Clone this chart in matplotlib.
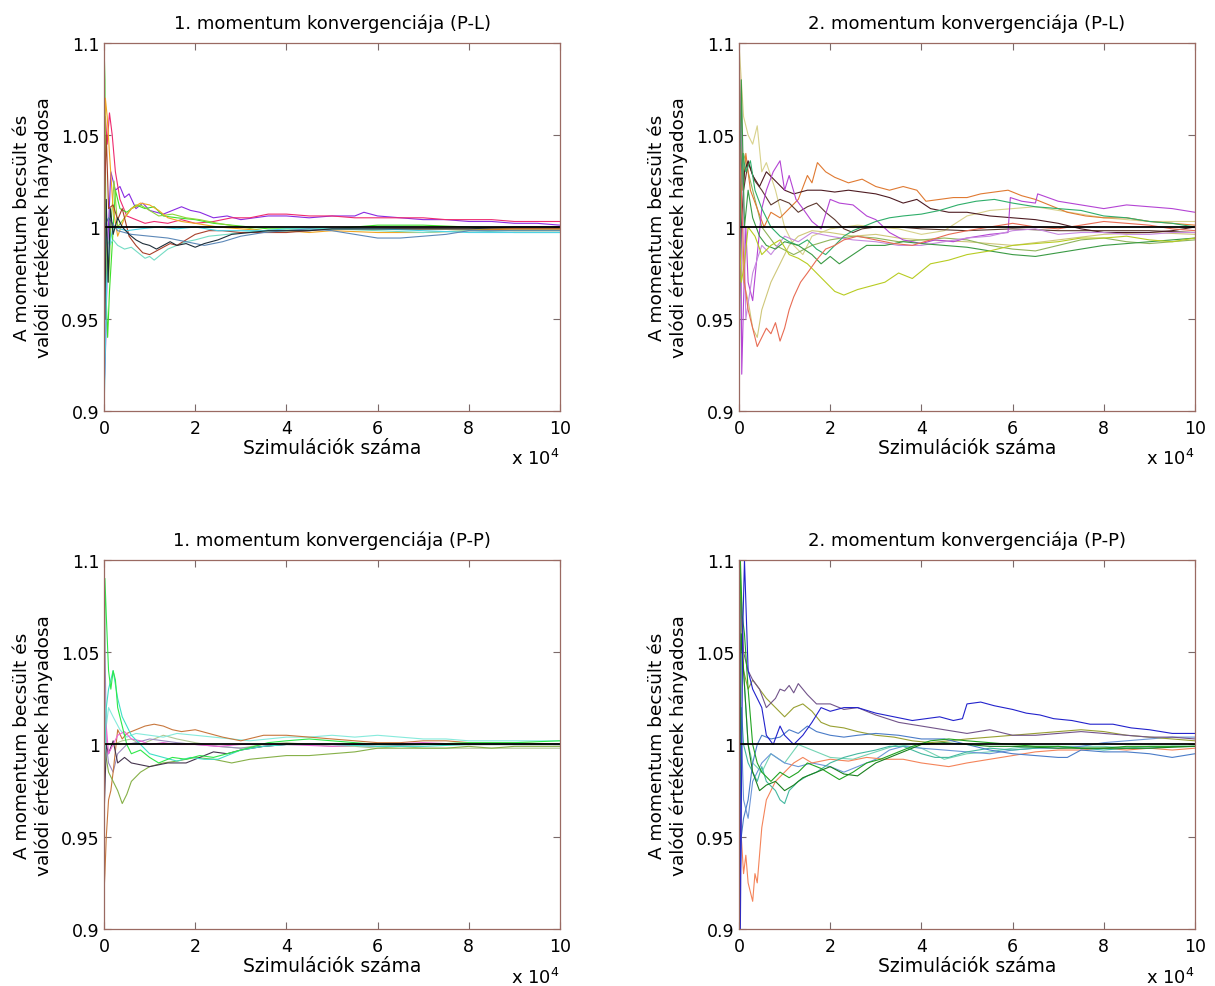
"""
Convergence of the 1st and 2nd moment estimates (P-L and P-P models).
Each curve is the ratio of estimated and true moment vs. number of simulations.
"""
import matplotlib
matplotlib.use("Agg")
import matplotlib.pyplot as plt

plt.rcParams['font.family'] = ['DejaVu Sans']

# x values are in units of 10^4 simulations

# ---- panel 1: 1. momentum (P-L) ----
p1_purple_x = [0, 0.03, 0.08, 0.15, 0.25, 0.35, 0.45, 0.55, 0.7, 0.85, 1.0, 1.15, 1.3, 1.5, 1.7, 1.9, 2.1, 2.4, 2.7, 3.0, 3.3, 3.6, 4.0, 4.5, 5.0, 5.5, 5.7, 6.0, 6.5, 7.0, 7.5, 8.0, 8.5, 9.0, 9.5, 10]
p1_purple_y = [0.91, 0.93, 0.99, 1.03, 1.02, 1.022, 1.016, 1.018, 1.01, 1.013, 1.009, 1.008, 1.007, 1.009, 1.011, 1.009, 1.008, 1.005, 1.006, 1.004, 1.005, 1.006, 1.006, 1.005, 1.006, 1.006, 1.008, 1.006, 1.005, 1.004, 1.004, 1.003, 1.003, 1.002, 1.002, 1.001]
p1_pink_x = [0, 0.03, 0.07, 0.12, 0.18, 0.25, 0.35, 0.5, 0.7, 0.9, 1.1, 1.4, 1.7, 2.0, 2.4, 2.8, 3.2, 3.6, 4.0, 4.5, 5.0, 5.5, 6.0, 6.5, 7.0, 7.5, 8.0, 8.5, 9.0, 9.5, 10]
p1_pink_y = [1.04, 1.06, 1.045, 1.062, 1.05, 1.03, 1.015, 1.006, 1.004, 1.002, 1.003, 1.002, 1.004, 1.002, 1.003, 1.005, 1.005, 1.007, 1.007, 1.006, 1.006, 1.005, 1.005, 1.005, 1.005, 1.004, 1.004, 1.004, 1.003, 1.003, 1.003]
p1_green_x = [0, 0.02, 0.05, 0.08, 0.12, 0.18, 0.25, 0.35, 0.5, 0.7, 0.9, 1.1, 1.3, 1.6, 2.0, 2.4, 2.8, 3.2, 3.6, 4.0, 5.0, 6.0, 7.0, 8.0, 9.0, 10]
p1_green_y = [1.1, 1.08, 0.96, 0.94, 0.965, 0.99, 1.02, 1.01, 1.008, 1.012, 1.01, 1.011, 1.006, 1.005, 1.004, 1.002, 1.001, 1.0, 0.999, 0.999, 0.999, 1.001, 1.001, 1.0, 0.999, 0.999]
p1_ygreen_x = [0, 0.04, 0.1, 0.15, 0.22, 0.3, 0.45, 0.6, 0.8, 1.0, 1.2, 1.5, 1.8, 2.1, 2.5, 3.0, 3.5, 4.0, 5.0, 6.0, 7.0, 8.0, 9.0, 10]
p1_ygreen_y = [1.07, 1.0, 0.97, 1.0, 1.025, 1.0, 1.005, 1.01, 1.012, 1.009, 1.006, 1.007, 1.005, 1.004, 1.002, 1.0, 0.998, 0.998, 0.999, 0.999, 0.999, 0.999, 0.998, 0.998]
p1_orange_x = [0, 0.03, 0.07, 0.12, 0.2, 0.3, 0.45, 0.6, 0.8, 1.0, 1.2, 1.4, 1.7, 2.0, 2.5, 3.0, 3.5, 4.0, 4.5, 5.0, 6.0, 7.0, 8.0, 9.0, 10]
p1_orange_y = [1.03, 1.07, 1.06, 1.04, 1.01, 0.995, 1.005, 1.01, 1.013, 1.012, 1.009, 1.005, 1.003, 1.002, 1.0, 0.999, 0.998, 0.998, 0.997, 0.998, 0.997, 0.997, 0.998, 0.999, 0.999]
p1_teal_x = [0, 0.05, 0.12, 0.2, 0.3, 0.45, 0.6, 0.75, 0.9, 1.0, 1.1, 1.25, 1.4, 1.6, 1.8, 2.0, 2.3, 2.7, 3.0, 3.5, 4.0, 5.0, 6.0, 7.0, 8.0, 9.0, 10]
p1_teal_y = [0.98, 0.995, 0.99, 0.993, 0.99, 0.988, 0.989, 0.986, 0.983, 0.984, 0.982, 0.985, 0.988, 0.99, 0.992, 0.993, 0.995, 0.996, 0.997, 0.998, 0.998, 0.999, 0.998, 0.997, 0.998, 0.997, 0.997]
p1_dark_x = [0, 0.02, 0.05, 0.09, 0.14, 0.2, 0.3, 0.4, 0.55, 0.7, 0.85, 1.0, 1.15, 1.3, 1.45, 1.6, 1.8, 2.0, 2.2, 2.5, 2.8, 3.2, 3.6, 4.0, 4.5, 5.0, 6.0, 7.0, 8.0, 9.0, 10]
p1_dark_y = [1.0, 0.95, 1.015, 0.97, 1.01, 0.996, 1.005, 1.0, 0.996, 0.993, 0.991, 0.99, 0.988, 0.99, 0.992, 0.99, 0.991, 0.989, 0.991, 0.993, 0.996, 0.997, 0.998, 0.998, 0.998, 0.999, 0.999, 0.999, 0.999, 1.0, 1.0]
p1_brown_x = [0, 0.05, 0.1, 0.2, 0.3, 0.4, 0.55, 0.7, 0.85, 1.0, 1.15, 1.3, 1.45, 1.6, 1.8, 2.0, 2.3, 2.6, 3.0, 3.5, 4.0, 4.5, 5.0, 6.0, 7.0, 8.0, 9.0, 10]
p1_brown_y = [1.0, 1.05, 1.01, 1.012, 1.004, 1.01, 0.995, 0.99, 0.986, 0.985, 0.987, 0.989, 0.991, 0.99, 0.993, 0.996, 0.998, 0.998, 0.997, 0.997, 0.997, 0.998, 0.999, 0.999, 0.999, 0.999, 0.999, 0.999]
p1_cyan_x = [0, 0.02, 0.06, 0.12, 0.2, 0.35, 0.5, 0.8, 1.2, 1.6, 2.0, 2.5, 3.0, 3.5, 4.0, 5.0, 6.0, 7.0, 8.0, 9.0, 10]
p1_cyan_y = [0.9, 0.92, 0.97, 0.99, 1.0, 0.999, 0.998, 0.999, 1.0, 0.999, 1.0, 0.998, 0.998, 0.998, 0.999, 0.999, 0.999, 0.998, 0.997, 0.997, 0.997]
p1_steel_x = [0, 0.1, 0.3, 0.6, 1.0, 1.4, 1.8, 2.2, 2.6, 3.0, 3.5, 4.0, 4.5, 5.0, 5.5, 6.0, 6.5, 7.0, 7.5, 8.0, 9.0, 10]
p1_steel_y = [1.0, 1.005, 0.998, 0.996, 0.995, 0.994, 0.992, 0.99, 0.992, 0.995, 0.997, 0.998, 0.999, 0.998, 0.996, 0.994, 0.994, 0.995, 0.996, 0.998, 0.998, 0.998]

# ---- panel 2: 2. momentum (P-L) ----
p2_orange_x = [0, 0.03, 0.08, 0.15, 0.25, 0.4, 0.55, 0.7, 0.9, 1.1, 1.3, 1.5, 1.6, 1.72, 1.9, 2.1, 2.4, 2.7, 3.0, 3.3, 3.6, 3.9, 4.1, 4.4, 4.7, 5.0, 5.3, 5.6, 5.9, 6.2, 6.5, 6.8, 7.2, 7.6, 8.0, 8.5, 9.0, 9.5, 10]
p2_orange_y = [1.1, 1.06, 1.02, 1.04, 1.02, 1.01, 1.0, 1.008, 1.005, 1.01, 1.015, 1.028, 1.024, 1.035, 1.03, 1.027, 1.024, 1.026, 1.022, 1.02, 1.022, 1.02, 1.014, 1.015, 1.016, 1.016, 1.018, 1.019, 1.02, 1.017, 1.015, 1.012, 1.008, 1.006, 1.005, 1.005, 1.003, 1.002, 1.001]
p2_maroon_x = [0, 0.05, 0.12, 0.2, 0.3, 0.45, 0.6, 0.8, 1.0, 1.2, 1.5, 1.8, 2.1, 2.4, 2.7, 3.0, 3.3, 3.6, 3.9, 4.2, 4.6, 5.0, 5.5, 6.0, 6.5, 7.0, 7.5, 8.0, 8.5, 9.0, 9.5, 10]
p2_maroon_y = [0.95, 1.0, 1.03, 1.036, 1.028, 1.022, 1.03, 1.025, 1.02, 1.018, 1.02, 1.02, 1.019, 1.02, 1.019, 1.018, 1.016, 1.013, 1.015, 1.01, 1.008, 1.008, 1.006, 1.005, 1.004, 1.002, 0.999, 0.997, 0.997, 0.997, 0.998, 1.0]
p2_brown_x = [0, 0.1, 0.2, 0.35, 0.5, 0.7, 0.9, 1.1, 1.3, 1.5, 1.7, 1.9, 2.1, 2.3, 2.5, 2.7, 3.0, 3.5, 4.0, 5.0, 6.0, 7.0, 8.0, 9.0, 10]
p2_brown_y = [1.05, 1.02, 1.035, 1.025, 1.02, 1.012, 1.015, 1.013, 1.008, 1.011, 1.013, 1.008, 1.004, 0.999, 0.997, 0.999, 1.0, 1.0, 0.999, 0.998, 0.999, 0.998, 0.998, 0.998, 0.997]
p2_purple_x = [0, 0.03, 0.06, 0.1, 0.15, 0.2, 0.3, 0.4, 0.5, 0.6, 0.75, 0.9, 1.0, 1.1, 1.25, 1.4, 1.6, 1.8, 2.0, 2.2, 2.5, 2.8, 3.0, 3.3, 3.6, 4.0, 4.3, 4.7, 5.0, 5.5, 5.9, 5.95, 6.2, 6.5, 6.55, 7.0, 7.5, 8.0, 8.5, 9.0, 9.5, 10]
p2_purple_y = [1.1, 1.05, 0.92, 0.96, 1.0, 0.97, 0.96, 0.985, 1.01, 1.02, 1.03, 1.036, 1.02, 1.028, 1.015, 1.01, 1.003, 0.999, 1.015, 1.013, 1.012, 1.006, 1.004, 0.997, 0.993, 0.991, 0.993, 0.992, 0.994, 0.996, 0.997, 1.016, 1.014, 1.013, 1.018, 1.014, 1.012, 1.01, 1.012, 1.011, 1.01, 1.008]
p2_orchid_x = [0, 0.05, 0.15, 0.3, 0.5, 0.7, 1.0, 1.3, 1.6, 2.0, 2.5, 3.0, 3.5, 4.0, 4.5, 5.0, 5.5, 6.0, 6.5, 7.0, 7.5, 8.0, 8.5, 9.0, 9.5, 10]
p2_orchid_y = [0.9, 1.07, 0.95, 0.975, 0.99, 0.985, 0.995, 0.992, 0.997, 0.995, 0.993, 0.992, 0.99, 0.99, 0.992, 0.994, 0.995, 0.998, 0.999, 0.996, 0.997, 0.997, 0.996, 0.996, 0.997, 0.997]
p2_seagreen_x = [0, 0.03, 0.08, 0.15, 0.25, 0.35, 0.5, 0.7, 0.9, 1.1, 1.3, 1.5, 1.7, 1.9, 2.1, 2.3, 2.5, 2.7, 3.0, 3.3, 3.6, 4.0, 4.4, 4.8, 5.2, 5.6, 6.0, 6.5, 7.0, 7.5, 8.0, 8.5, 9.0, 9.5, 10]
p2_seagreen_y = [1.1, 1.0, 1.04, 1.03, 1.036, 1.02, 1.01, 1.0, 0.995, 0.992, 0.99, 0.993, 0.988, 0.985, 0.99, 0.995, 0.998, 1.0, 1.003, 1.005, 1.006, 1.007, 1.009, 1.012, 1.014, 1.015, 1.013, 1.011, 1.01, 1.009, 1.006, 1.005, 1.003, 1.002, 1.0]
p2_green_x = [0, 0.05, 0.12, 0.2, 0.3, 0.45, 0.6, 0.8, 1.0, 1.3, 1.6, 1.8, 2.0, 2.2, 2.5, 2.8, 3.2, 3.6, 4.0, 4.5, 5.0, 5.5, 6.0, 6.5, 7.0, 7.5, 8.0, 8.5, 9.0, 9.5, 10]
p2_green_y = [0.9, 1.08, 1.0, 1.02, 1.005, 0.995, 0.99, 0.988, 0.992, 0.99, 0.985, 0.98, 0.984, 0.98, 0.985, 0.99, 0.99, 0.992, 0.991, 0.99, 0.989, 0.987, 0.985, 0.984, 0.986, 0.988, 0.99, 0.991, 0.992, 0.993, 0.994]
p2_ygreen_x = [0, 0.05, 0.12, 0.2, 0.35, 0.5, 0.7, 0.9, 1.1, 1.3, 1.5, 1.7, 1.9, 2.1, 2.3, 2.6, 2.9, 3.2, 3.5, 3.8, 4.2, 4.6, 5.0, 5.5, 6.0, 6.5, 7.0, 7.5, 8.0, 8.5, 9.0, 9.5, 10]
p2_ygreen_y = [1.0, 0.97, 0.98, 1.0, 0.995, 0.985, 0.99, 0.993, 0.985, 0.983, 0.98, 0.975, 0.97, 0.965, 0.963, 0.966, 0.968, 0.97, 0.975, 0.972, 0.98, 0.982, 0.985, 0.987, 0.99, 0.991, 0.992, 0.994, 0.994, 0.995, 0.993, 0.992, 0.994]
p2_salmon_x = [0, 0.05, 0.12, 0.2, 0.3, 0.4, 0.5, 0.6, 0.7, 0.8, 0.9, 1.0, 1.1, 1.2, 1.35, 1.5, 1.7, 1.9, 2.1, 2.3, 2.6, 3.0, 3.4, 3.8, 4.2, 4.6, 5.0, 5.5, 6.0, 6.5, 7.0, 7.5, 8.0, 8.5, 9.0, 9.5, 10]
p2_salmon_y = [1.05, 1.02, 0.97, 0.955, 0.945, 0.935, 0.94, 0.945, 0.942, 0.948, 0.938, 0.945, 0.955, 0.962, 0.97, 0.975, 0.982, 0.988, 0.99, 0.993, 0.995, 0.993, 0.991, 0.99, 0.993, 0.996, 0.998, 1.0, 1.002, 1.0, 0.999, 1.001, 1.003, 1.002, 1.001, 0.999, 0.998]
p2_tan_x = [0, 0.05, 0.1, 0.2, 0.3, 0.4, 0.5, 0.6, 0.8, 1.0, 1.2, 1.4, 1.6, 1.8, 2.0, 2.3, 2.6, 3.0, 3.5, 4.0, 4.5, 5.0, 5.5, 6.0, 6.5, 7.0, 7.5, 8.0, 8.5, 9.0, 9.5, 10]
p2_tan_y = [1.1, 1.08, 1.06, 1.05, 1.045, 1.055, 1.03, 1.035, 1.02, 1.0, 0.99, 0.985, 0.995, 0.997, 0.999, 1.0, 1.001, 1.0, 0.999, 0.996, 0.998, 1.006, 1.009, 1.01, 1.011, 1.009, 1.007, 1.005, 1.004, 1.003, 1.003, 1.003]
p2_khaki_x = [0, 0.05, 0.1, 0.2, 0.3, 0.4, 0.5, 0.7, 0.9, 1.1, 1.3, 1.6, 2.0, 2.5, 3.0, 3.5, 4.0, 5.0, 6.0, 7.0, 8.0, 9.0, 10]
p2_khaki_y = [1.1, 1.0, 0.97, 0.96, 0.945, 0.94, 0.955, 0.97, 0.98, 0.99, 0.995, 0.998, 0.997, 0.995, 0.996, 0.994, 0.993, 0.992, 0.99, 0.993, 0.996, 0.997, 0.996]
p2_olive_x = [0, 0.1, 0.3, 0.5, 0.8, 1.2, 1.6, 2.0, 2.5, 3.0, 3.5, 4.0, 4.5, 5.0, 5.5, 6.0, 6.5, 7.0, 7.5, 8.0, 8.5, 9.0, 9.5, 10]
p2_olive_y = [1.0, 1.04, 1.02, 1.0, 0.99, 0.985, 0.99, 0.993, 0.995, 0.994, 0.992, 0.993, 0.994, 0.993, 0.99, 0.988, 0.987, 0.99, 0.993, 0.994, 0.992, 0.991, 0.992, 0.993]

# ---- panel 3: 1. momentum (P-P) ----
p3_green_x = [0, 0.02, 0.05, 0.1, 0.15, 0.2, 0.25, 0.3, 0.4, 0.5, 0.6, 0.8, 1.0, 1.2, 1.5, 1.8, 2.1, 2.4, 2.7, 3.0, 3.3, 3.6, 4.0, 4.5, 5.0, 5.5, 6.0, 7.0, 8.0, 9.0, 10]
p3_green_y = [1.0, 1.09, 1.07, 1.04, 1.03, 1.04, 1.035, 1.02, 1.01, 1.0, 0.995, 0.997, 0.993, 0.99, 0.993, 0.992, 0.994, 0.993, 0.995, 0.997, 0.999, 1.001, 1.002, 1.003, 1.002, 1.001, 1.0, 1.0, 1.001, 1.001, 1.002]
p3_aqua_x = [0, 0.05, 0.1, 0.2, 0.3, 0.4, 0.5, 0.6, 0.8, 1.0, 1.3, 1.6, 1.9, 2.2, 2.5, 2.8, 3.0, 3.5, 4.0, 5.0, 6.0, 7.0, 8.0, 9.0, 10]
p3_aqua_y = [0.98, 1.02, 1.03, 1.04, 1.025, 1.015, 1.01, 1.005, 1.0, 0.995, 0.993, 0.991, 0.993, 0.992, 0.992, 0.995, 0.997, 0.999, 1.0, 1.0, 0.999, 0.999, 1.0, 1.0, 1.0]
p3_brown_x = [0, 0.02, 0.05, 0.1, 0.15, 0.2, 0.3, 0.4, 0.5, 0.7, 0.9, 1.1, 1.3, 1.5, 1.7, 2.0, 2.3, 2.6, 3.0, 3.5, 4.0, 4.5, 5.0, 5.5, 6.0, 6.5, 7.0, 7.5, 8.0, 9.0, 10]
p3_brown_y = [0.92, 0.93, 0.95, 0.97, 0.975, 0.985, 1.008, 1.003, 1.006, 1.008, 1.01, 1.011, 1.01, 1.008, 1.007, 1.008, 1.006, 1.004, 1.002, 1.005, 1.005, 1.004, 1.003, 1.002, 1.001, 1.001, 1.002, 1.002, 1.001, 1.001, 1.0]
p3_olive_x = [0, 0.1, 0.2, 0.3, 0.4, 0.5, 0.6, 0.8, 1.0, 1.3, 1.6, 2.0, 2.4, 2.8, 3.2, 3.6, 4.0, 4.5, 5.0, 5.5, 6.0, 6.5, 7.0, 7.5, 8.0, 8.5, 9.0, 9.5, 10]
p3_olive_y = [1.0, 0.985, 0.98, 0.975, 0.968, 0.973, 0.98, 0.985, 0.988, 0.99, 0.991, 0.993, 0.992, 0.99, 0.992, 0.993, 0.994, 0.994, 0.995, 0.996, 0.998, 0.998, 0.998, 0.998, 0.999, 0.998, 0.999, 0.999, 0.999]
p3_dark_x = [0, 0.05, 0.1, 0.2, 0.3, 0.45, 0.6, 0.8, 1.0, 1.2, 1.4, 1.6, 1.8, 2.0, 2.2, 2.4, 2.7, 3.0, 3.5, 4.0, 5.0, 6.0, 7.0, 8.0, 9.0, 10]
p3_dark_y = [0.96, 1.0, 0.995, 1.002, 0.99, 0.993, 0.99, 0.989, 0.988, 0.989, 0.99, 0.99, 0.99, 0.992, 0.994, 0.996, 0.995, 0.997, 0.999, 1.0, 1.0, 1.0, 1.0, 1.0, 1.0, 1.0]
p3_magenta_x = [0, 0.05, 0.1, 0.2, 0.3, 0.45, 0.6, 0.8, 1.0, 1.3, 1.6, 2.0, 2.5, 3.0, 3.5, 4.0, 5.0, 6.0, 7.0, 8.0, 9.0, 10]
p3_magenta_y = [1.02, 1.01, 0.995, 1.0, 1.005, 1.007, 1.003, 1.002, 1.0, 1.001, 1.0, 1.0, 0.999, 1.0, 1.0, 1.0, 0.999, 1.0, 1.001, 1.0, 1.0, 1.0]
p3_lightaqua_x = [0, 0.1, 0.2, 0.35, 0.5, 0.7, 1.0, 1.3, 1.6, 2.0, 2.4, 2.8, 3.2, 3.6, 4.0, 4.5, 5.0, 5.5, 6.0, 6.5, 7.0, 7.5, 8.0, 9.0, 10]
p3_lightaqua_y = [1.0, 1.02, 1.015, 1.008, 1.004, 1.006, 1.005, 1.004, 1.006, 1.005, 1.004, 1.003, 1.002, 1.003, 1.004, 1.004, 1.005, 1.004, 1.005, 1.004, 1.003, 1.003, 1.002, 1.002, 1.002]
p3_lavender_x = [0, 0.05, 0.1, 0.2, 0.3, 0.5, 0.7, 1.0, 1.3, 1.6, 2.0, 2.5, 3.0, 3.5, 4.0, 5.0, 6.0, 7.0, 8.0, 9.0, 10]
p3_lavender_y = [1.1, 1.0, 0.99, 0.985, 0.995, 1.0, 1.001, 1.003, 1.002, 1.001, 1.0, 0.999, 0.998, 0.999, 1.0, 1.0, 0.999, 1.0, 1.0, 1.0, 1.0]
p3_sage_x = [0, 0.2, 0.4, 0.6, 0.8, 1.0, 1.3, 1.6, 2.0, 2.5, 3.0, 3.5, 4.0, 4.5, 5.0, 5.5, 6.0, 6.5, 7.0, 7.5, 8.0, 9.0, 10]
p3_sage_y = [1.0, 1.0, 1.002, 1.003, 1.0, 1.002, 1.005, 1.003, 1.001, 0.999, 0.998, 1.0, 1.001, 1.0, 0.999, 0.999, 0.998, 0.999, 0.998, 0.998, 0.998, 0.998, 0.998]

# ---- panel 4: 2. momentum (P-P) ----
p4_blue_x = [0, 0.03, 0.08, 0.12, 0.2, 0.3, 0.4, 0.5, 0.6, 0.75, 0.9, 1.0, 1.2, 1.4, 1.6, 1.8, 2.0, 2.3, 2.6, 3.0, 3.4, 3.8, 4.1, 4.4, 4.7, 4.9, 5.0, 5.3, 5.6, 6.0, 6.3, 6.6, 6.9, 7.3, 7.7, 8.2, 8.6, 9.0, 9.5, 10]
p4_blue_y = [1.1, 0.9, 1.06, 1.1, 1.04, 1.03, 1.025, 1.02, 1.005, 1.0, 1.01, 1.005, 1.0, 1.005, 1.012, 1.02, 1.018, 1.02, 1.02, 1.017, 1.015, 1.013, 1.014, 1.015, 1.013, 1.014, 1.022, 1.023, 1.021, 1.019, 1.017, 1.016, 1.014, 1.013, 1.011, 1.011, 1.009, 1.008, 1.006, 1.006]
p4_slate_x = [0, 0.05, 0.1, 0.2, 0.3, 0.45, 0.6, 0.8, 0.9, 1.0, 1.1, 1.2, 1.3, 1.4, 1.5, 1.7, 2.0, 2.3, 2.6, 3.0, 3.5, 4.0, 4.5, 5.0, 5.5, 6.0, 6.5, 7.0, 7.5, 8.0, 8.5, 9.0, 9.5, 10]
p4_slate_y = [1.0, 1.08, 1.05, 1.04, 1.035, 1.03, 1.02, 1.025, 1.03, 1.029, 1.032, 1.028, 1.033, 1.03, 1.027, 1.022, 1.022, 1.019, 1.02, 1.016, 1.012, 1.01, 1.008, 1.006, 1.008, 1.005, 1.005, 1.006, 1.007, 1.006, 1.005, 1.004, 1.004, 1.003]
p4_olive_x = [0, 0.05, 0.1, 0.2, 0.3, 0.45, 0.6, 0.8, 1.0, 1.2, 1.4, 1.6, 1.8, 2.0, 2.3, 2.6, 3.0, 3.4, 3.8, 4.2, 4.6, 5.0, 5.5, 6.0, 6.5, 7.0, 7.5, 8.0, 8.5, 9.0, 9.5, 10]
p4_olive_y = [1.1, 1.07, 1.04, 1.03, 1.035, 1.03, 1.025, 1.02, 1.015, 1.02, 1.022, 1.018, 1.012, 1.01, 1.009, 1.007, 1.005, 1.004, 1.002, 1.001, 1.002, 1.003, 1.004, 1.005, 1.006, 1.007, 1.008, 1.007, 1.005, 1.004, 1.003, 1.002]
p4_salmon_x = [0, 0.05, 0.1, 0.15, 0.2, 0.25, 0.3, 0.35, 0.4, 0.45, 0.5, 0.6, 0.7, 0.8, 1.0, 1.2, 1.4, 1.6, 2.0, 2.4, 2.8, 3.2, 3.6, 4.0, 4.3, 4.6, 5.0, 5.5, 6.0, 6.5, 7.0, 7.5, 8.0, 8.5, 9.0, 9.5, 10]
p4_salmon_y = [1.05, 0.95, 0.93, 0.94, 0.925, 0.92, 0.915, 0.93, 0.925, 0.94, 0.955, 0.97, 0.975, 0.98, 0.985, 0.99, 0.993, 0.99, 0.992, 0.991, 0.993, 0.992, 0.992, 0.99, 0.989, 0.988, 0.99, 0.992, 0.994, 0.996, 0.997, 0.997, 0.998, 0.997, 0.998, 0.997, 0.998]
p4_teal_x = [0, 0.05, 0.1, 0.2, 0.3, 0.4, 0.5, 0.6, 0.8, 0.9, 1.0, 1.1, 1.3, 1.5, 1.7, 2.0, 2.3, 2.6, 3.0, 3.3, 3.6, 4.0, 4.3, 4.6, 5.0, 5.5, 6.0, 6.5, 7.0, 7.5, 8.0, 8.5, 9.0, 9.5, 10]
p4_teal_y = [0.9, 1.02, 1.0, 0.99, 0.985, 0.98, 0.988, 0.98, 0.975, 0.97, 0.968, 0.975, 0.98, 0.983, 0.985, 0.99, 0.993, 0.995, 0.997, 0.999, 0.999, 0.995, 0.993, 0.993, 0.996, 0.998, 0.997, 0.998, 0.999, 0.998, 0.997, 0.998, 0.998, 0.999, 0.999]
p4_green_x = [0, 0.03, 0.07, 0.12, 0.2, 0.3, 0.4, 0.5, 0.7, 0.9, 1.1, 1.3, 1.5, 1.8, 2.0, 2.2, 2.5, 2.8, 3.1, 3.5, 3.8, 4.2, 4.6, 5.0, 5.5, 6.0, 6.5, 7.0, 7.5, 8.0, 8.5, 9.0, 9.5, 10]
p4_green_y = [1.0, 1.1, 1.07, 1.06, 1.03, 1.0, 0.99, 0.985, 0.98, 0.985, 0.982, 0.985, 0.99, 0.987, 0.984, 0.981, 0.985, 0.99, 0.992, 0.996, 0.999, 1.002, 1.003, 1.002, 1.001, 1.0, 0.999, 0.999, 0.998, 0.998, 0.999, 0.999, 0.999, 0.999]
p4_midblue_x = [0, 0.05, 0.1, 0.2, 0.3, 0.4, 0.5, 0.7, 0.9, 1.1, 1.3, 1.5, 1.7, 2.0, 2.3, 2.6, 3.0, 3.5, 4.0, 4.5, 5.0, 5.5, 6.0, 6.5, 7.0, 7.2, 7.5, 8.0, 8.5, 9.0, 9.5, 10]
p4_midblue_y = [0.9, 0.95, 0.96, 0.97, 0.99, 1.0, 1.005, 1.003, 1.004, 1.008, 1.006, 1.01, 1.007, 1.005, 1.004, 1.005, 1.006, 1.005, 1.003, 1.003, 1.0, 0.997, 0.995, 0.994, 0.993, 0.993, 0.997, 0.996, 0.996, 0.995, 0.993, 0.995]
p4_cornflower_x = [0, 0.1, 0.2, 0.3, 0.5, 0.7, 1.0, 1.3, 1.6, 2.0, 2.3, 2.6, 3.0, 3.3, 3.6, 4.0, 4.5, 5.0, 5.5, 6.0, 6.5, 7.0, 7.5, 8.0, 8.5, 9.0, 9.5, 10]
p4_cornflower_y = [1.05, 0.97, 0.96, 0.98, 0.99, 0.995, 0.99, 0.988, 0.99, 0.988, 0.985, 0.988, 0.992, 0.997, 0.999, 0.998, 0.997, 0.996, 0.995, 0.997, 0.998, 0.998, 0.999, 1.001, 1.002, 1.003, 1.004, 1.004]
p4_aqua_x = [0, 0.1, 0.2, 0.3, 0.5, 0.7, 1.0, 1.3, 1.6, 2.0, 2.5, 3.0, 3.5, 4.0, 4.5, 5.0, 5.5, 6.0, 6.5, 7.0, 7.5, 8.0, 8.5, 9.0, 9.5, 10]
p4_aqua_y = [1.1, 1.04, 1.0, 0.99, 0.985, 0.995, 0.99, 1.0, 0.997, 0.993, 0.992, 0.996, 1.0, 0.998, 0.992, 0.995, 0.996, 0.998, 0.999, 0.999, 0.999, 0.999, 0.998, 0.999, 0.999, 0.999]
p4_darkgreen_x = [0, 0.05, 0.1, 0.2, 0.3, 0.45, 0.6, 0.8, 1.0, 1.2, 1.4, 1.7, 2.0, 2.3, 2.6, 3.0, 3.5, 4.0, 4.5, 5.0, 5.5, 6.0, 7.0, 8.0, 9.0, 10]
p4_darkgreen_y = [0.92, 1.06, 1.04, 1.0, 0.985, 0.975, 0.978, 0.98, 0.975, 0.978, 0.982, 0.985, 0.988, 0.984, 0.983, 0.99, 0.995, 1.0, 1.001, 1.0, 0.999, 0.999, 0.998, 0.998, 0.998, 0.999]

titles = ['1. momentum konvergenciája (P-L)', '2. momentum konvergenciája (P-L)',
          '1. momentum konvergenciája (P-P)', '2. momentum konvergenciája (P-P)']
ylabel = 'A momentum becsült és\nvalódi értékének hányadosa'
xlabel = 'Szimulációk száma'
xticks = [0, 2, 4, 6, 8, 10]
yticks = [0.9, 0.95, 1.0, 1.05, 1.1]
ytick_labels = ['0.9', '0.95', '1', '1.05', '1.1']

panels = [
    [(p1_purple_x, p1_purple_y, '#8a2be2'), (p1_pink_x, p1_pink_y, '#ee2a6e'),
     (p1_green_x, p1_green_y, '#3ee02a'), (p1_ygreen_x, p1_ygreen_y, '#8ed43a'),
     (p1_orange_x, p1_orange_y, '#f2a623'), (p1_teal_x, p1_teal_y, '#74dcc4'),
     (p1_brown_x, p1_brown_y, '#a8402a'), (p1_cyan_x, p1_cyan_y, '#4cd2e6'),
     (p1_steel_x, p1_steel_y, '#5c88b8'), (p1_dark_x, p1_dark_y, '#1e2e3a')],
    [(p2_tan_x, p2_tan_y, '#d8d28c'), (p2_khaki_x, p2_khaki_y, '#cfc77a'),
     (p2_olive_x, p2_olive_y, '#8fb45a'), (p2_orange_x, p2_orange_y, '#e07a32'),
     (p2_brown_x, p2_brown_y, '#5e3a30'), (p2_maroon_x, p2_maroon_y, '#4e1c22'),
     (p2_purple_x, p2_purple_y, '#b444d4'), (p2_orchid_x, p2_orchid_y, '#c78ae0'),
     (p2_seagreen_x, p2_seagreen_y, '#2fae6a'), (p2_green_x, p2_green_y, '#3a9a44'),
     (p2_ygreen_x, p2_ygreen_y, '#b8cc22'), (p2_salmon_x, p2_salmon_y, '#e86c54')],
    [(p3_sage_x, p3_sage_y, '#b0c894'), (p3_lavender_x, p3_lavender_y, '#9c8cc0'),
     (p3_lightaqua_x, p3_lightaqua_y, '#86eadc'), (p3_brown_x, p3_brown_y, '#c8783e'),
     (p3_olive_x, p3_olive_y, '#86b048'), (p3_dark_x, p3_dark_y, '#44344e'),
     (p3_magenta_x, p3_magenta_y, '#f064d8'), (p3_aqua_x, p3_aqua_y, '#3ee0c6'),
     (p3_green_x, p3_green_y, '#2ee84a')],
    [(p4_aqua_x, p4_aqua_y, '#74d4b4'), (p4_cornflower_x, p4_cornflower_y, '#6c96d8'),
     (p4_olive_x, p4_olive_y, '#98a032'), (p4_slate_x, p4_slate_y, '#72548a'),
     (p4_salmon_x, p4_salmon_y, '#f4845a'), (p4_teal_x, p4_teal_y, '#44b8a0'),
     (p4_midblue_x, p4_midblue_y, '#4a7cc8'), (p4_green_x, p4_green_y, '#22a422'),
     (p4_darkgreen_x, p4_darkgreen_y, '#1a801e'), (p4_blue_x, p4_blue_y, '#2222cc')],
]

fig = plt.figure(figsize=(12.15, 9.87), dpi=100)
W, H = 1215, 987
# axes boxes in pixels: left, top, right, bottom
boxes = [(104, 44, 560, 412), (739, 44, 1195, 412),
         (104, 561, 560, 930), (739, 561, 1195, 930)]

for box, title, lines in zip(boxes, titles, panels):
    l, t, r, b = box
    ax = fig.add_axes([l / W, 1 - b / H, (r - l) / W, (b - t) / H])
    for xs, ys, c in lines:
        ax.plot(xs, ys, color=c, lw=0.8)
    ax.plot([0, 10], [1, 1], color='black', lw=1.3)

    ax.set_xlim(0, 10)
    ax.set_ylim(0.9, 1.1)
    ax.set_xticks(xticks)
    ax.set_xticklabels([str(v) for v in xticks])
    ax.set_yticks(yticks)
    ax.set_yticklabels(ytick_labels)
    ax.tick_params(direction='in', top=True, right=True, length=5, width=0.8,
                   colors='#7a6a6a', labelcolor='black', labelsize=12.5)
    ax.tick_params(axis='x', pad=6)
    ax.tick_params(axis='y', pad=3)
    for s in ax.spines.values():
        s.set_color('#9a6a62')
        s.set_linewidth(0.9)

    ax.set_title(title, fontsize=13, pad=11)
    ax.text(0.5, -0.10, xlabel, transform=ax.transAxes, ha='center', va='center',
            fontsize=13.5)
    ax.text(1.0, -0.145, r'x 10$^4$', transform=ax.transAxes, ha='right',
            va='baseline', fontsize=13)
    ax.text(-0.156, 0.5, ylabel, transform=ax.transAxes, rotation=90,
            ha='center', va='center', fontsize=13.3, linespacing=1.25)

fig.savefig('out.png', dpi=100)
